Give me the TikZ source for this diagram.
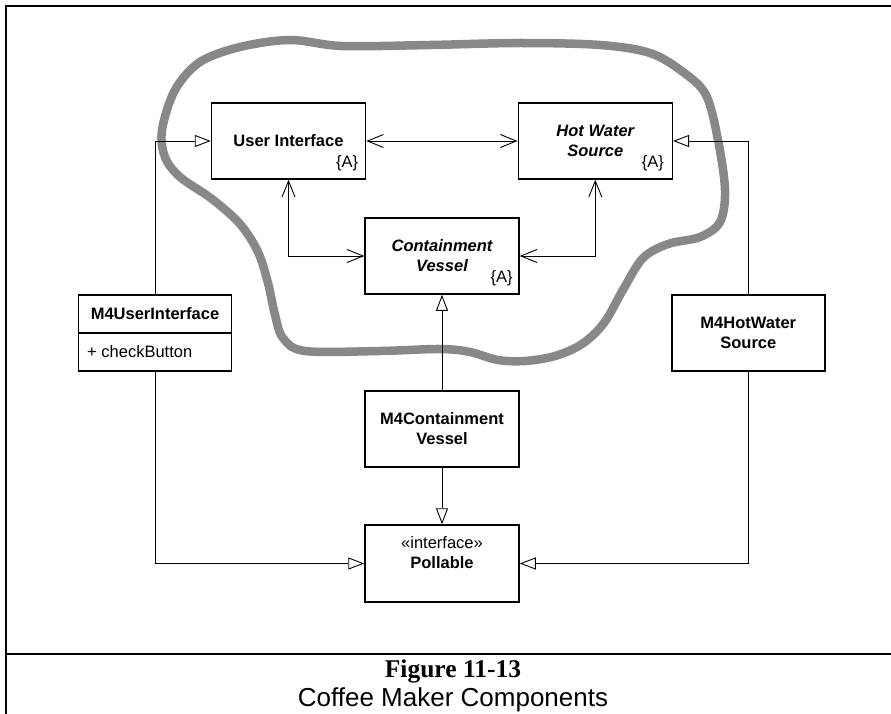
\documentclass[tikz,border=0pt]{standalone}
\usepackage{fontspec}
\setmainfont{Liberation Sans}
\newfontfamily\capserif{Liberation Serif}
\usetikzlibrary{arrows.meta}
\definecolor{blobgray}{RGB}{136,136,136}
\begin{document}
\begin{tikzpicture}[x=1pt,y=-1pt,
  txt/.style={inner sep=0pt, font=\fontsize{16.5}{20}\selectfont},
  box/.style={draw, line width=1.5pt, minimum width=154pt, minimum height=76pt, inner sep=0pt, align=center, font=\fontsize{16.5}{20}\selectfont\bfseries},
  abox/.style={box, font=\fontsize{16.5}{20}\selectfont\bfseries\itshape},
  assoc/.style={line width=0.9pt, {Straight Barb[length=16pt,width=13pt]}-{Straight Barb[length=16pt,width=13pt]}},
  inh/.style={line width=0.9pt, -{Triangle[fill=white,length=16pt,width=12pt]}},
  frameline/.style={line width=2pt},
  blob/.style={line width=8.5pt, draw=blobgray}
]
\useasboundingbox (0,0) rectangle (891,714);
% frame
\draw[frameline] (5.5,714) -- (5.5,6) -- (891,6);
\draw[frameline] (5.5,654) -- (891,654);

% blob (drawn behind everything else)
\draw[blob] plot[smooth cycle, tension=0.55] coordinates {(175,90) (200,62) (240,47) (290,40) (342,46) (430,45) (520,43) (600,45) (650,53) (683,72) (706,95) (718,140) (725,190) (720,222) (700,237) (668,244) (643,258) (624,288) (604,323) (582,344) (555,356) (525,361) (498,360) (470,352) (440,349) (380,351) (305,351) (283,338) (275,315) (268,283) (258,252) (240,224) (212,199) (180,177) (165,157) (162,130)};

% boxes
\node[box, fill=white] (ui) at (288.5,141) {User Interface};
\node[abox, fill=white] (hws) at (595.3,141) {Hot Water\\Source};
\node[abox, fill=white] (cv) at (442,256) {Containment\\Vessel};
\node[box, fill=white, minimum width=153pt] (m4ui) at (155,333) {};
\node[box, fill=white, minimum width=153pt] (m4hws) at (748.3,333) {M4HotWater\\Source};
\node[box, fill=white] (m4cv) at (442,429) {M4Containment\\Vessel};
\node[box, fill=white, minimum height=77pt] (poll) at (442,563.5) {};

% texts inside
\path (ui.south east) ++(-8,-12) node[txt, anchor=base east] (uiA) {\{A\}};
\path (hws.south east) ++(-9,-12) node[txt, anchor=base east] (hwsA) {\{A\}};
\path (cv.south east) ++(-7,-12) node[txt, anchor=base east] (cvA) {\{A\}};
\node[txt, font=\fontsize{16.5}{20}\selectfont\bfseries] (m4uititle) at (155,314) {M4UserInterface};
\node[txt, anchor=base west] (m4uiattr) at (87,357.5) {+ checkButton};
\draw[line width=1.2pt] (m4ui.west) -- (m4ui.east);
\node[txt, align=center] (polltxt) at (442,553) {«interface»\\\textbf{Pollable}};

% associations
\draw[assoc] (ui.east) -- (hws.west);
\draw[assoc] (ui.south) |- (cv.west);
\draw[assoc] (hws.south) |- (cv.east);

% generalizations
\draw[inh] (m4ui.north) |- (ui.west);
\draw[inh] (m4ui.south) |- (poll.west);
\draw[inh] (m4hws.north) |- (hws.east);
\draw[inh] (m4hws.south) |- (poll.east);
\draw[inh] (m4cv.north) -- (cv.south);
\draw[inh] (m4cv.south) -- (poll.north);

% caption
\node[inner sep=0pt, anchor=base, font=\capserif\bfseries\fontsize{25.5}{30}\selectfont] (figno) at (453,677) {Figure 11-13};
\node[inner sep=0pt, anchor=base, font=\fontsize{26}{30}\selectfont] (figtitle) at (453,706) {Coffee Maker Components};
\end{tikzpicture}
\end{document}
